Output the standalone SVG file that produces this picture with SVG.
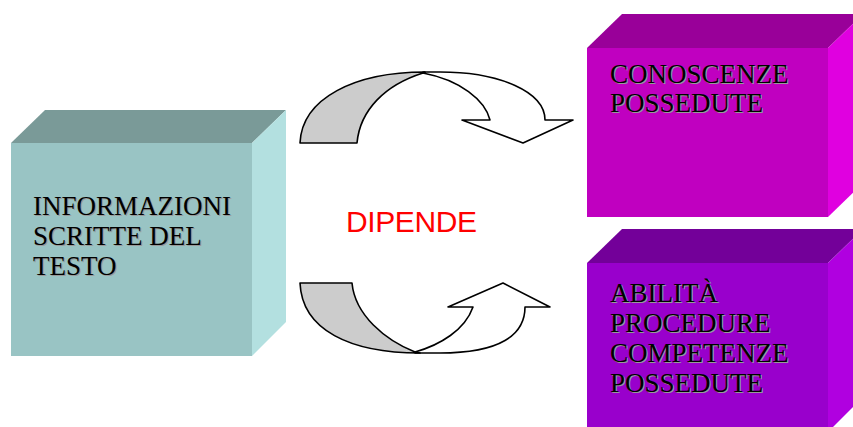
<svg xmlns="http://www.w3.org/2000/svg" width="853" height="427" viewBox="0 0 853 427">
<style>
.t{font-family:"Liberation Serif","Times New Roman",serif;font-size:27px}
.sh{fill:#999999}
.tx{fill:#000}
.arr{stroke:#000;stroke-width:1.6;stroke-linejoin:round}
</style>
<rect width="853" height="427" fill="#fff"/>
<g id="connectors">
  <g id="arrow-top">
    <path class="arr" fill="#fff" d="M423,72 L440,72 C500,72 545,92 545,120 L573,120 L523,143 L462,120 L490,120 C485,100 460,80 423,73 Z"/>
    <path class="arr" fill="#cccccc" d="M300,143 L357,143 C360,110 385,85 423,73 L425,72 C355,72 302,98 300,143 Z"/>
  </g>
  <g id="arrow-bottom">
    <path class="arr" fill="#fff" d="M415,353 L440,353 C500,353 525,335 525,307 L550,307 L503,283 L448,307 L473,307 C465,330 440,345 415,352 Z"/>
    <path class="arr" fill="#cccccc" d="M300,283 L352,283 C355,315 385,340 415,352 L420,353 C350,353 302,330 300,283 Z"/>
  </g>
</g>
<g id="node-informazioni">
  <polygon points="11,143 45,110 286,110 252,143" fill="#7a9a98"/>
  <polygon points="252,143 286,110 286,322 252,356" fill="#b3e0e0"/>
  <rect x="11" y="143" width="241" height="213" fill="#99c4c4"/>
  <g class="t">
    <text class="sh" x="34.2" y="216.2">INFORMAZIONI</text>
    <text class="sh" x="34.2" y="246.2">SCRITTE DEL</text>
    <text class="sh" x="34.2" y="276.2">TESTO</text>
    <text class="tx" x="33" y="215">INFORMAZIONI</text>
    <text class="tx" x="33" y="245">SCRITTE DEL</text>
    <text class="tx" x="33" y="275">TESTO</text>
  </g>
</g>
<g id="node-dipende">
  <text x="346" y="232" font-family="'Liberation Sans',Arial,sans-serif" font-size="30" fill="#ff0000" textLength="131">DIPENDE</text>
</g>
<g id="node-conoscenze">
  <polygon points="587,48 622,14 863,14 828,48" fill="#990099"/>
  <polygon points="828,48 863,14 863,183 828,217" fill="#e000e0"/>
  <rect x="587" y="48" width="241" height="169" fill="#c000c0"/>
  <g class="t">
    <text class="sh" x="611.2" y="84.2">CONOSCENZE</text>
    <text class="sh" x="611.2" y="113.2">POSSEDUTE</text>
    <text class="tx" x="610" y="83">CONOSCENZE</text>
    <text class="tx" x="610" y="112">POSSEDUTE</text>
  </g>
</g>
<g id="node-abilita">
  <polygon points="587,263 622,229 863,229 828,263" fill="#730099"/>
  <polygon points="828,263 863,229 863,397 828,432" fill="#b000e0"/>
  <rect x="587" y="263" width="241" height="169" fill="#9900cc"/>
  <g class="t">
    <text class="sh" x="611.2" y="303.2">ABILITÀ</text>
    <text class="sh" x="611.2" y="333.2">PROCEDURE</text>
    <text class="sh" x="611.2" y="363.2">COMPETENZE</text>
    <text class="sh" x="611.2" y="393.2">POSSEDUTE</text>
    <text class="tx" x="610" y="302">ABILITÀ</text>
    <text class="tx" x="610" y="332">PROCEDURE</text>
    <text class="tx" x="610" y="362">COMPETENZE</text>
    <text class="tx" x="610" y="392">POSSEDUTE</text>
  </g>
</g>
</svg>
